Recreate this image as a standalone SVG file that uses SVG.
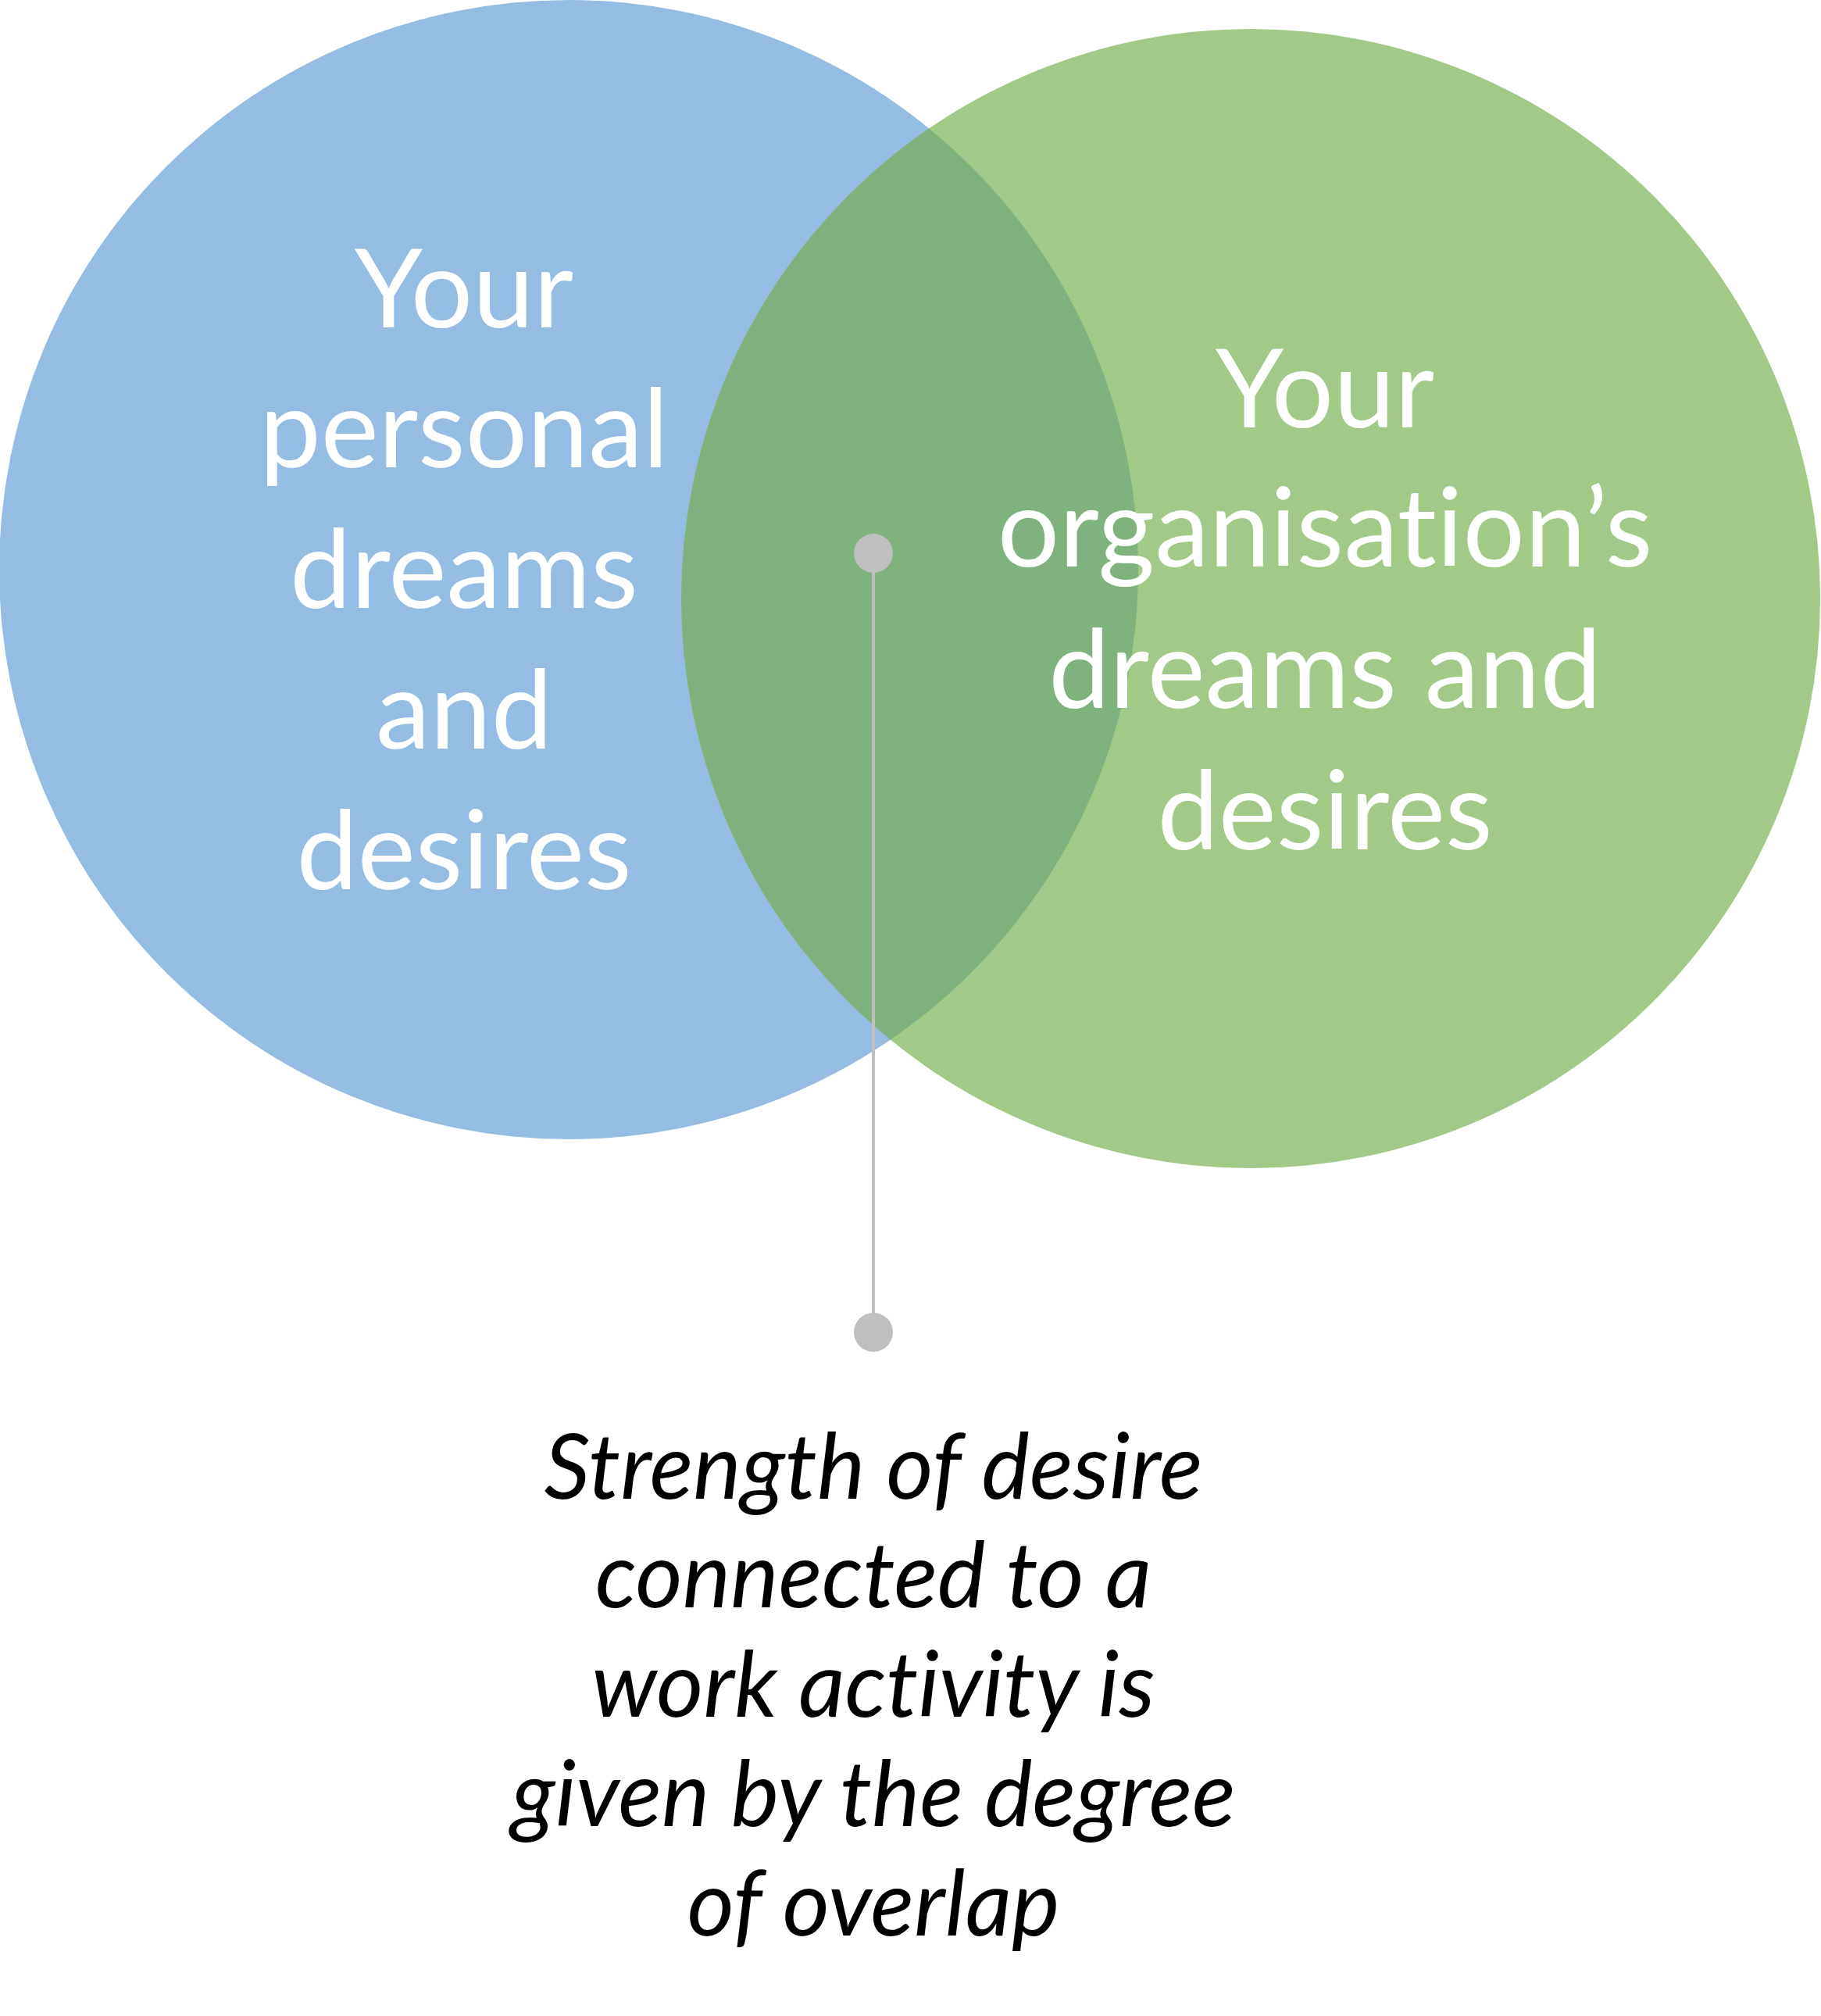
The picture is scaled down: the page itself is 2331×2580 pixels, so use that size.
<svg xmlns="http://www.w3.org/2000/svg" width="2331" height="2580" viewBox="0 0 2331 2580">
  <style>
    .w { font-family: Lato, "Open Sans", sans-serif; font-size: 140px; fill: #ffffff; text-anchor: middle; font-variant-ligatures: none; }
    .k { font-family: Lato, "Open Sans", sans-serif; font-size: 116px; font-style: italic; fill: #000000; text-anchor: middle; font-variant-ligatures: none; }
    .dot { fill: #BFBFBF; }
  </style>
  <defs>
    <clipPath id="blueClip">
      <circle cx="728" cy="729" r="729"/>
    </clipPath>
  </defs>
  <rect width="2331" height="2580" fill="#ffffff"/>
  <g id="personal">
    <circle cx="728" cy="729" r="729" fill="#95BDE3"/>
  </g>
  <g id="organisation">
    <circle cx="1601" cy="766" r="729" fill="#A2C987"/>
  </g>
  <g id="overlap">
    <circle cx="1601" cy="766" r="729" fill="#7FB27F" clip-path="url(#blueClip)"/>
  </g>
  <g id="personal-label">
    <text class="w" x="594" y="419">Your</text>
    <text class="w" x="594" y="598">personal</text>
    <text class="w" x="594" y="778">dreams</text>
    <text class="w" x="594" y="958">and</text>
    <text class="w" x="594" y="1138">desires</text>
  </g>
  <g id="organisation-label">
    <text class="w" x="1696" y="547">Your</text>
    <text class="w" x="1696" y="725">organisation’s</text>
    <text class="w" x="1696" y="906">dreams and</text>
    <text class="w" x="1696" y="1087">desires</text>
  </g>
  <g id="connectors">
    <line x1="1118" y1="708" x2="1118" y2="1705" stroke="#BFBFBF" stroke-width="4"/>
    <circle class="dot" cx="1118" cy="708" r="25"/>
    <circle class="dot" cx="1118" cy="1705" r="25"/>
  </g>
  <g id="caption">
    <text class="k" x="1118" y="1918">Strength of desire</text>
    <text class="k" x="1118" y="2057">connected to a</text>
    <text class="k" x="1118" y="2197">work activity is</text>
    <text class="k" x="1118" y="2337">given by the degree</text>
    <text class="k" x="1118" y="2477">of overlap</text>
  </g>
</svg>
